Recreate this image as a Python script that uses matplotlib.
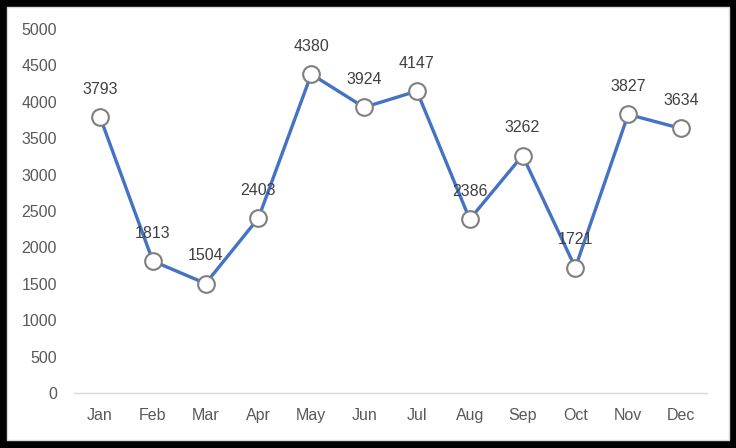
import matplotlib.pyplot as plt
from matplotlib.patches import Rectangle

months = ['Jan', 'Feb', 'Mar', 'Apr', 'May', 'Jun', 'Jul', 'Aug', 'Sep', 'Oct', 'Nov', 'Dec']
values = [3793, 1813, 1504, 2403, 4380, 3924, 4147, 2386, 3262, 1721, 3827, 3634]
yticks = [0, 500, 1000, 1500, 2000, 2500, 3000, 3500, 4000, 4500, 5000]

plt.rcParams['font.family'] = ['Liberation Sans', 'DejaVu Sans']

fig = plt.figure(figsize=(7.36, 4.48), dpi=100, facecolor='black')
# white chart area with thin grey edge, inside the black frame (drawn under the axes)
fig.patches.append(Rectangle((7 / 736, 8 / 448), 722 / 736, 433 / 448,
                             transform=fig.transFigure, facecolor='white',
                             edgecolor='#d9d9d9', linewidth=1, zorder=-1))

ax = fig.add_axes([73.6 / 736, 55 / 448, 633.8 / 736, 364 / 448])
ax.set_facecolor('none')

x = list(range(len(months)))
ax.plot(x, values, color='#4472c4', linewidth=2.4, marker='o', markersize=12,
        markerfacecolor='white', markeredgecolor='#7f7f7f', markeredgewidth=1.5,
        zorder=3)

for xi, v in zip(x, values):
    ax.annotate(str(v), (xi, v), xytext=(0, 20), textcoords='offset points',
                ha='center', va='center', fontsize=11.5, color='#404040', zorder=4)

ax.set_xlim(-0.5, len(months) - 0.5)
ax.set_ylim(0, 5000)
ax.set_xticks(x)
ax.set_xticklabels(months)
ax.set_yticks(yticks)

for s in ['top', 'right', 'left']:
    ax.spines[s].set_visible(False)
ax.spines['bottom'].set_color('#d9d9d9')
ax.spines['bottom'].set_linewidth(1)

ax.tick_params(axis='both', length=0, labelsize=11.5, labelcolor='#595959')
ax.tick_params(axis='y', pad=12)
ax.tick_params(axis='x', pad=11)

fig.savefig('out.png', dpi=100, facecolor='black')
